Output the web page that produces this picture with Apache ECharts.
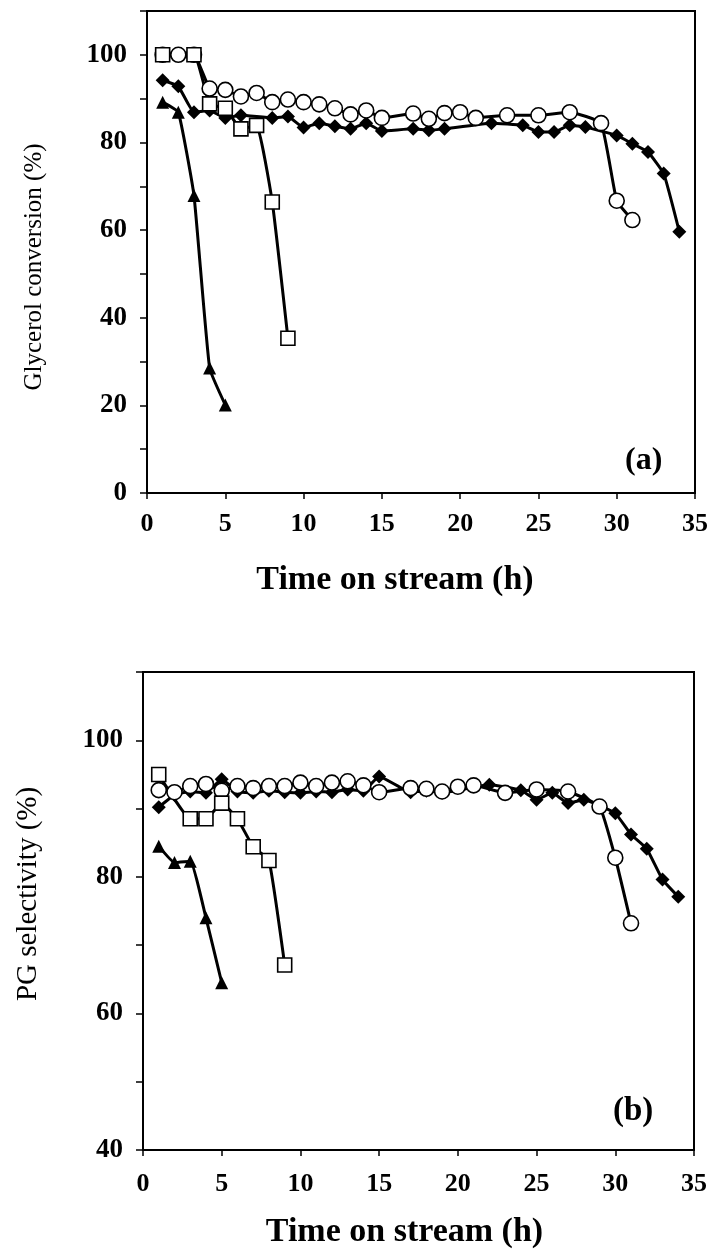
<!DOCTYPE html>
<html><head><meta charset="utf-8">
<script src="https://cdn.jsdelivr.net/npm/echarts@6/dist/echarts.min.js"></script>
<style>html,body{margin:0;padding:0;background:#fff}#c{width:717px;height:1253px}</style>
</head><body><div id="c"></div>
<script>
// ---- Panel (a): Glycerol conversion (%) ----
const aDiamondH = [1,2,3,4,5,6,8,9,10,11,12,13,14,15,17,18,19,22,24,25,26,27,28,30,31,32,33,34];
const aDiamondV = [94.2,92.8,86.9,87.3,85.6,86.2,85.6,85.9,83.4,84.4,83.7,83.1,84.4,82.6,83.1,82.8,83.1,84.4,83.9,82.4,82.4,83.9,83.5,81.6,79.7,77.8,72.9,59.6];
const aCircleH = [1,2,3,4,5,6,7,8,9,10,11,12,13,14,15,17,18,19,20,21,23,25,27,29,30,31];
const aCircleV = [100,100,100,92.3,92.0,90.5,91.3,89.2,89.8,89.2,88.7,87.8,86.4,87.3,85.6,86.6,85.4,86.7,86.9,85.6,86.2,86.2,86.9,84.4,66.7,62.3];
const aSquareH = [1,3,4,5,6,7,8,9];
const aSquareV = [100,100,88.8,87.8,83.1,83.9,66.4,35.3];
const aTriangleH = [1,2,3,4,5];
const aTriangleV = [89.2,86.9,67.9,28.5,20.1];

// ---- Panel (b): PG selectivity (%) ----
const bDiamondH = [1,2,3,4,5,6,7,8,9,10,11,12,13,14,15,17,18,19,22,24,25,26,27,28,30,31,32,33,34];
const bDiamondV = [90.2,92.0,92.5,92.3,94.3,92.5,92.3,92.6,92.4,92.3,92.5,92.4,92.8,92.6,94.7,92.4,92.6,92.3,93.5,92.7,91.3,92.3,90.8,91.3,89.3,86.2,84.1,79.6,77.1];
const bCircleH = [1,2,3,4,5,6,7,8,9,10,11,12,13,14,15,17,18,19,20,21,23,25,27,29,30,31];
const bCircleV = [92.7,92.4,93.3,93.6,92.6,93.3,93.0,93.3,93.3,93.8,93.3,93.8,94.0,93.4,92.4,93.0,92.9,92.5,93.2,93.4,92.3,92.8,92.5,90.3,82.8,73.2];
const bSquareH = [1,3,4,5,6,7,8,9];
const bSquareV = [95.0,88.5,88.5,90.8,88.5,84.4,82.4,67.1];
const bTriangleH = [1,2,3,4,5];
const bTriangleV = [84.5,82.1,82.3,74.0,64.5];

// ---- Tick labels ----
const xTickLabels = [0,5,10,15,20,25,30,35];
const aYTickLabels = [0,20,40,60,80,100];
const bYTickLabels = [40,60,80,100];

const xTitle = 'Time on stream (h)';
const aYTitle = 'Glycerol conversion (%)';
const bYTitle = 'PG selectivity (%)';

const zip = (h, v) => h.map((x, i) => [x, v[i]]);
const SERIF = '"Liberation Serif", "Times New Roman", serif';

function mk(name, h, v, idx, symbol, size, filled) {
  return {
    name: name, type: 'line', xAxisIndex: idx, yAxisIndex: idx,
    data: zip(h, v), symbol: symbol, symbolSize: size,
    smooth: 0.12,
    lineStyle: {color: '#000', width: 3},
    itemStyle: {color: filled ? '#000' : '#fff', borderColor: '#000', borderWidth: filled ? 0 : 1.6},
    emphasis: {disabled: true}, animation: false
  };
}

function xAx(idx, gap, margin, pad) {
  return {
    type: 'value', gridIndex: idx, min: 0, max: 35, interval: 5,
    axisLine: {show: true, lineStyle: {color: '#000', width: 2}},
    axisTick: {show: true, inside: false, length: 6, lineStyle: {color: '#000', width: 1.5}},
    splitLine: {show: false},
    axisLabel: {color: '#000', fontFamily: SERIF, fontWeight: 'bold', fontSize: 26, margin: margin,
      formatter: v => xTickLabels.includes(v) ? String(v) : ''},
    name: xTitle, nameLocation: 'middle', nameGap: gap,
    nameTextStyle: {color: '#000', fontFamily: SERIF, fontWeight: 'bold', fontSize: 34, padding: pad}
  };
}
function yAx(idx, min, labels, title, gap, fs, pad) {
  return {
    type: 'value', gridIndex: idx, min: min, max: 110, interval: 10,
    axisLine: {show: true, lineStyle: {color: '#000', width: 2}},
    axisTick: {show: true, inside: false, length: 7, lineStyle: {color: '#000', width: 1.5}},
    splitLine: {show: false},
    axisLabel: {color: '#000', fontFamily: SERIF, fontWeight: 'bold', fontSize: 27, margin: 20,
      formatter: v => labels.includes(v) ? String(v) : ''},
    name: title, nameLocation: 'middle', nameGap: gap,
    nameTextStyle: {color: '#000', fontFamily: SERIF, fontWeight: 'normal', fontSize: fs, padding: pad}
  };
}

const chart = echarts.init(document.getElementById('c'), null, {renderer: 'canvas'});
chart.setOption({
  animation: false,
  backgroundColor: '#fff',
  grid: [
    {left: 147, top: 11, width: 548, height: 482, show: true, borderColor: '#000', borderWidth: 2, backgroundColor: 'transparent'},
    {left: 143, top: 672, width: 551, height: 478, show: true, borderColor: '#000', borderWidth: 2, backgroundColor: 'transparent'}
  ],
  xAxis: [xAx(0, 70, 18, [0, 52, 0, 0]), xAx(1, 65, 21, [0, 28, 0, 0])],
  yAxis: [yAx(0, 0, aYTickLabels, aYTitle, 100, 25, [0, 30, 0, 0]), yAx(1, 40, bYTickLabels, bYTitle, 100, 29, [0, 0, 0, 34])],
  series: [
    mk('a-diamond', aDiamondH, aDiamondV, 0, 'diamond', 14, true),
    mk('a-circle', aCircleH, aCircleV, 0, 'circle', 15, false),
    mk('a-square', aSquareH, aSquareV, 0, 'rect', 14, false),
    mk('a-triangle', aTriangleH, aTriangleV, 0, 'triangle', 13, true),
    mk('b-diamond', bDiamondH, bDiamondV, 1, 'diamond', 14, true),
    mk('b-circle', bCircleH, bCircleV, 1, 'circle', 15, false),
    mk('b-square', bSquareH, bSquareV, 1, 'rect', 14, false),
    mk('b-triangle', bTriangleH, bTriangleV, 1, 'triangle', 13, true)
  ],
  graphic: [
    {type: 'text', left: 625, top: 445, style: {text: '(a)', fill: '#000', font: 'bold 32px ' + SERIF}},
    {type: 'text', left: 613, top: 1095, style: {text: '(b)', fill: '#000', font: 'bold 33px ' + SERIF}}
  ]
});
</script>
</body></html>
